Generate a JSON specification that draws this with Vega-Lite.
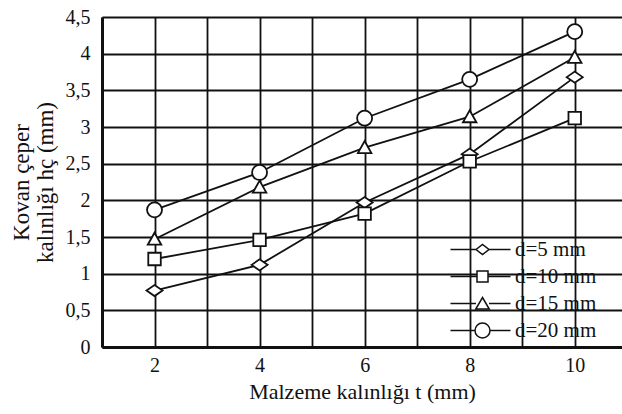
{
  "$schema": "https://vega.github.io/schema/vega-lite/v6.json",
  "autosize": {"type": "none"},
  "width": 520,
  "height": 330,
  "padding": {"left": 102, "top": 17, "right": 0, "bottom": 67},
  "background": "white",
  "config": {
    "font": "Liberation Serif",
    "view": {"stroke": null},
    "axis": {
      "labelFont": "Liberation Serif",
      "titleFont": "Liberation Serif",
      "labelColor": "#111",
      "titleColor": "#111",
      "titleFontWeight": "normal",
      "gridColor": "#111",
      "gridWidth": 1.8,
      "gridOpacity": 1,
      "domainColor": "#111",
      "domainWidth": 3,
      "ticks": false
    }
  },
  "data": {
    "values": [
      {"t": 2, "h": 0.77, "d": "d=5 mm"},
      {"t": 4, "h": 1.12, "d": "d=5 mm"},
      {"t": 6, "h": 1.97, "d": "d=5 mm"},
      {"t": 8, "h": 2.63, "d": "d=5 mm"},
      {"t": 10, "h": 3.68, "d": "d=5 mm"},
      {"t": 2, "h": 1.2, "d": "d=10 mm"},
      {"t": 4, "h": 1.46, "d": "d=10 mm"},
      {"t": 6, "h": 1.82, "d": "d=10 mm"},
      {"t": 8, "h": 2.53, "d": "d=10 mm"},
      {"t": 10, "h": 3.12, "d": "d=10 mm"},
      {"t": 2, "h": 1.47, "d": "d=15 mm"},
      {"t": 4, "h": 2.18, "d": "d=15 mm"},
      {"t": 6, "h": 2.72, "d": "d=15 mm"},
      {"t": 8, "h": 3.14, "d": "d=15 mm"},
      {"t": 10, "h": 3.95, "d": "d=15 mm"},
      {"t": 2, "h": 1.87, "d": "d=20 mm"},
      {"t": 4, "h": 2.38, "d": "d=20 mm"},
      {"t": 6, "h": 3.12, "d": "d=20 mm"},
      {"t": 8, "h": 3.65, "d": "d=20 mm"},
      {"t": 10, "h": 4.3, "d": "d=20 mm"}
    ]
  },
  "encoding": {
    "x": {
      "field": "t",
      "type": "quantitative",
      "scale": {"domain": [1, 10.9], "nice": false, "zero": false},
      "axis": {
        "values": [1, 2, 3, 4, 5, 6, 7, 8, 9, 10],
        "labelExpr": "datum.value % 2 === 0 ? datum.label : ''",
        "labelFontSize": 20,
        "labelPadding": 8,
        "title": "Malzeme kalınlığı t (mm)",
        "titleFontSize": 22,
        "titlePadding": 6
      }
    },
    "y": {
      "field": "h",
      "type": "quantitative",
      "scale": {"domain": [0, 4.5], "nice": false},
      "axis": {
        "values": [0, 0.5, 1, 1.5, 2, 2.5, 3, 3.5, 4, 4.5],
        "format": "~g",
        "labelExpr": "replace(datum.label, '.', ',')",
        "labelFontSize": 20,
        "labelPadding": 12,
        "title": ["Kovan çeper", "kalınlığı  hç (mm)"],
        "titleFontSize": 23,
        "titleLineHeight": 24,
        "titlePadding": 8
      }
    }
  },
  "layer": [
    {
      "mark": {"type": "line", "color": "#111", "strokeWidth": 1.8},
      "encoding": {"detail": {"field": "d"}}
    },
    {
      "mark": {"type": "point", "filled": true, "fill": "white", "stroke": "#111", "strokeWidth": 1.8, "size": 100, "opacity": 1},
      "encoding": {
        "shape": {
          "field": "d",
          "type": "nominal",
          "scale": {
            "domain": ["d=5 mm", "d=10 mm", "d=15 mm", "d=20 mm"],
            "range": [
              "M-1.6,0L0,-1.1L1.6,0L0,1.1Z",
              "M-1.25,-1.25H1.25V1.25H-1.25Z",
              "M0,-1.3L1.35,1.1H-1.35Z",
              "M-1.5,0A1.5,1.5,0,1,0,1.5,0A1.5,1.5,0,1,0,-1.5,0Z"
            ]
          },
          "legend": null
        }
      }
    },
    {
      "mark": {"type": "point", "filled": true, "fill": "white", "stroke": "#111", "strokeWidth": 2, "size": 100, "opacity": 0},
      "encoding": {
        "shape": {
          "field": "d",
          "type": "nominal",
          "scale": {
            "domain": ["d=5 mm", "d=10 mm", "d=15 mm", "d=20 mm"],
            "range": [
              "M-6.4,0H-1.3M1.3,0H5.6M-1.3,0L0,-1L1.3,0L0,1Z",
              "M-6.4,0H-1.1M1.1,0H5.6M-1.1,-1.1H1.1V1.1H-1.1Z",
              "M-6.4,0H-1.3M1.3,0H5.6M0,-1.2L1.35,1.1H-1.35Z",
              "M-6.4,0H-1.5M1.5,0H5.6M-1.5,0A1.5,1.5,0,1,0,1.5,0A1.5,1.5,0,1,0,-1.5,0Z"
            ]
          },
          "legend": {
            "title": null,
            "orient": "none",
            "legendX": 370,
            "legendY": 222,
            "padding": 0,
            "symbolSize": 100,
            "labelFont": "Liberation Serif",
            "labelFontSize": 21,
            "labelColor": "#111",
            "labelOffset": 22,
            "rowPadding": 5,
            "fillColor": null,
            "encode": {
              "symbols": {
                "update": {
                  "stroke": {"value": "#111"},
                  "fill": {"value": "white"},
                  "strokeWidth": {"value": 2.4},
                  "opacity": {"value": 1},
                  "fillOpacity": {"value": 1},
                  "strokeOpacity": {"value": 1}
                }
              }
            }
          }
        }
      }
    }
  ],
  "resolve": {"scale": {"shape": "independent"}}
}
